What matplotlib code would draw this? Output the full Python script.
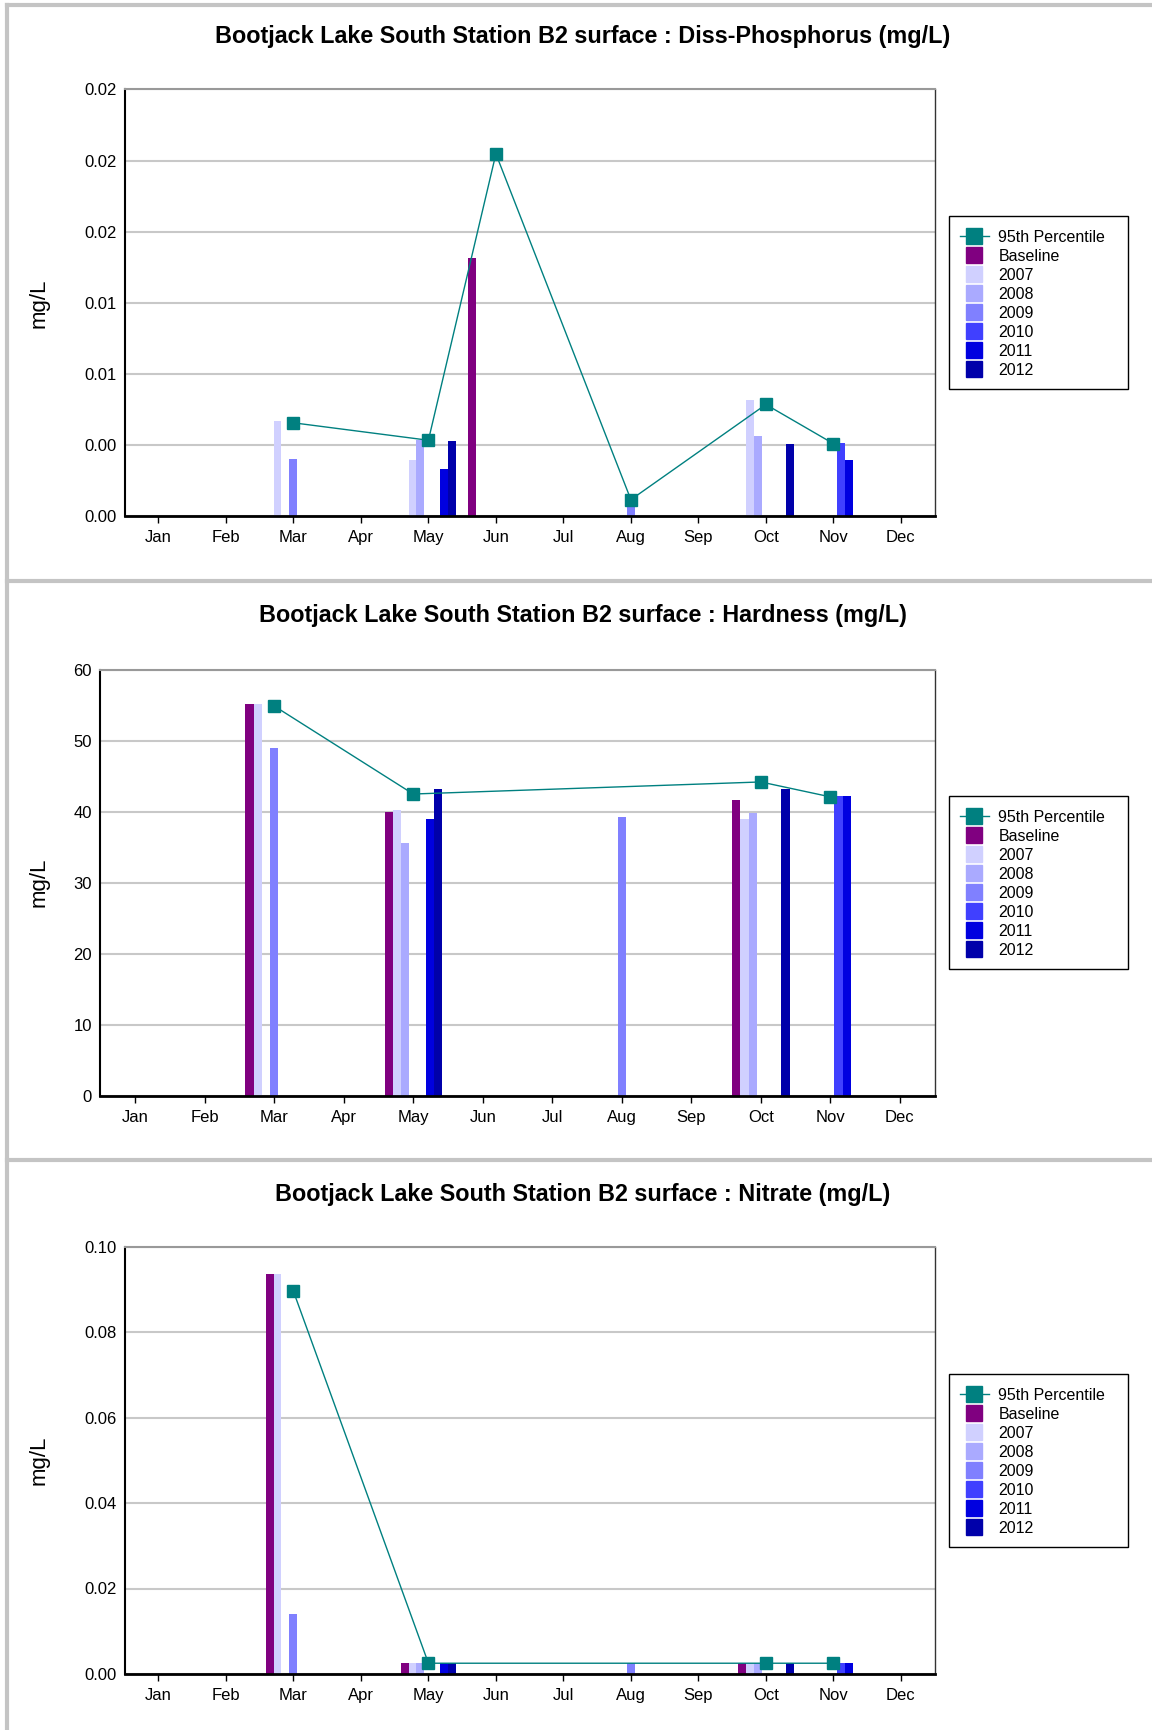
import numpy as np
import matplotlib
matplotlib.use("Agg")
import matplotlib.pyplot as plt
from matplotlib.lines import Line2D
from matplotlib.patches import Rectangle

plt.rcParams['font.family'] = ['Liberation Sans', 'DejaVu Sans']

N = np.nan
months = ['Jan', 'Feb', 'Mar', 'Apr', 'May', 'Jun', 'Jul', 'Aug', 'Sep', 'Oct', 'Nov', 'Dec']
series_names = ['Baseline', '2007', '2008', '2009', '2010', '2011', '2012']
series_colors = ['#800080', '#D0D0FF', '#AAAAFF', '#8080FF', '#4040FF', '#0000E0', '#0000AA']
p95_color = '#008080'

# Diss-Phosphorus (mg/L)
phos_baseline = [N, N, N, N, N, 0.01452, N, N, N, N, N, N]
phos_2007 = [N, N, 0.00539, N, 0.00319, N, N, N, N, 0.00657, N, N]
phos_2008 = [N, N, N, N, 0.00428, N, N, N, N, 0.00454, N, N]
phos_2009 = [N, N, 0.00325, N, N, N, N, 0.0008, N, N, N, N]
phos_2010 = [N, N, N, N, N, N, N, N, N, N, 0.00415, N]
phos_2011 = [N, N, N, N, 0.00269, N, N, N, N, N, 0.00319, N]
phos_2012 = [N, N, N, N, 0.00426, N, N, N, N, 0.00409, N, N]
phos_p95 = [N, N, 0.00526, N, 0.00428, 0.02038, N, 0.00094, N, 0.00629, 0.00409, N]

# Hardness (mg/L)
hard_baseline = [N, N, 55.2, N, 39.9, N, N, N, N, 41.6, N, N]
hard_2007 = [N, N, 55.2, N, 40.2, N, N, N, N, 39.0, N, N]
hard_2008 = [N, N, N, N, 35.6, N, N, N, N, 39.8, N, N]
hard_2009 = [N, N, 49.0, N, N, N, N, 39.3, N, N, N, N]
hard_2010 = [N, N, N, N, N, N, N, N, N, N, 42.2, N]
hard_2011 = [N, N, N, N, 39.0, N, N, N, N, N, 42.2, N]
hard_2012 = [N, N, N, N, 43.2, N, N, N, N, 43.2, N, N]
hard_p95 = [N, N, 54.9, N, 42.5, N, N, N, N, 44.2, 42.1, N]

# Nitrate (mg/L)
nit_baseline = [N, N, 0.0936, N, 0.0025, N, N, N, N, 0.0025, N, N]
nit_2007 = [N, N, 0.0936, N, 0.0025, N, N, N, N, 0.0025, N, N]
nit_2008 = [N, N, N, N, 0.0025, N, N, N, N, 0.0025, N, N]
nit_2009 = [N, N, 0.0140, N, N, N, N, 0.0025, N, N, N, N]
nit_2010 = [N, N, N, N, N, N, N, N, N, N, 0.0025, N]
nit_2011 = [N, N, N, N, 0.0025, N, N, N, N, N, 0.0025, N]
nit_2012 = [N, N, N, N, 0.0025, N, N, N, N, 0.0025, N, N]
nit_p95 = [N, N, 0.0896, N, 0.0025, N, N, N, N, 0.0025, 0.0025, N]

W, H = 1152, 1730
fig = plt.figure(figsize=(W / 100, H / 100), dpi=100)


def fx(px):
    return px / W


def fy(py):
    return 1 - py / H


def draw_panel(title, bars, p95, ymax, ystep, fmt, ax_left, ax_top, ax_bottom, title_y, leg_top):
    ax_right = 934.6
    ax = fig.add_axes([fx(ax_left), fy(ax_bottom), fx(ax_right - ax_left), (ax_bottom - ax_top) / H])
    x = np.arange(12)
    width = 0.118
    for i, vals in enumerate(bars):
        vals = np.array(vals, dtype=float)
        ok = ~np.isnan(vals)
        ax.bar(x[ok] + (i - 3) * width, vals[ok], width, color=series_colors[i], zorder=2)
    p = np.array(p95, dtype=float)
    ok = ~np.isnan(p)
    ax.plot(x[ok], p[ok], color=p95_color, lw=1, marker='s', markersize=8.5, zorder=3)

    ax.set_xlim(-0.5, 11.5)
    ax.set_ylim(0, ymax)
    ax.set_xticks(x)
    ax.set_xticklabels(months)
    yt = np.arange(0, ymax + ystep / 2, ystep)
    ax.set_yticks(yt)
    ax.set_yticklabels([fmt % v for v in yt])
    ax.tick_params(axis='x', length=5, width=1, labelsize=12, pad=5)
    ax.tick_params(axis='y', length=0, labelsize=12, pad=6)
    ax.yaxis.grid(True, color='#C8C8C8', lw=1.5, zorder=0)
    ax.set_axisbelow(True)
    ax.spines['left'].set_linewidth(1.5)
    ax.spines['bottom'].set_linewidth(2)
    ax.spines['top'].set_color('#999999')
    ax.spines['top'].set_linewidth(1.5)
    ax.spines['right'].set_color('#333333')
    ax.spines['right'].set_linewidth(1)

    fig.text(fx(582.6), fy(title_y), title, ha='center', va='center',
             fontsize=16.8, fontweight='bold')
    fig.text(fx(39), fy((ax_top + ax_bottom) / 2), 'mg/L', rotation=90,
             ha='center', va='center', fontsize=16)

    # legend box
    fig.add_artist(Rectangle((fx(949), fy(leg_top + 173)), fx(179), 173 / H,
                             transform=fig.transFigure, fill=False, edgecolor='black', lw=1))
    handles = [Line2D([], [], color=p95_color, lw=1, marker='s', markersize=11.5)]
    handles += [Line2D([], [], ls='none', marker='s', markersize=11.5, color=c) for c in series_colors]
    labels = ['95th Percentile'] + series_names
    fig.legend(handles, labels, loc='upper left', bbox_to_anchor=(fx(960), fy(leg_top + 14)),
               frameon=False, fontsize=11.5, handlelength=1.8, handletextpad=0.6,
               labelspacing=0.25, borderpad=0, borderaxespad=0)


draw_panel('Bootjack Lake South Station B2 surface : Diss-Phosphorus (mg/L)',
           [phos_baseline, phos_2007, phos_2008, phos_2009, phos_2010, phos_2011, phos_2012],
           phos_p95, 0.024, 0.004, '%.2f', 124.7, 89.4, 516.4, 37, 216)
draw_panel('Bootjack Lake South Station B2 surface : Hardness (mg/L)',
           [hard_baseline, hard_2007, hard_2008, hard_2009, hard_2010, hard_2011, hard_2012],
           hard_p95, 60, 10, '%d', 100.4, 669.8, 1095.7, 615.5, 796)
draw_panel('Bootjack Lake South Station B2 surface : Nitrate (mg/L)',
           [nit_baseline, nit_2007, nit_2008, nit_2009, nit_2010, nit_2011, nit_2012],
           nit_p95, 0.10, 0.02, '%.2f', 124.7, 1246.9, 1673.9, 1195, 1374)

# panel borders
border = dict(color='#C4C4C4', lw=3, transform=fig.transFigure)
fig.add_artist(Line2D([fx(6.5), fx(6.5)], [0, fy(4.5)], **border))
fig.add_artist(Line2D([fx(6.5), 1], [fy(4.5), fy(4.5)], **border))
fig.add_artist(Line2D([fx(6.5), 1], [fy(581), fy(581)], **border))
fig.add_artist(Line2D([fx(6.5), 1], [fy(1160), fy(1160)], **border))

fig.savefig('out.png', dpi=100)
